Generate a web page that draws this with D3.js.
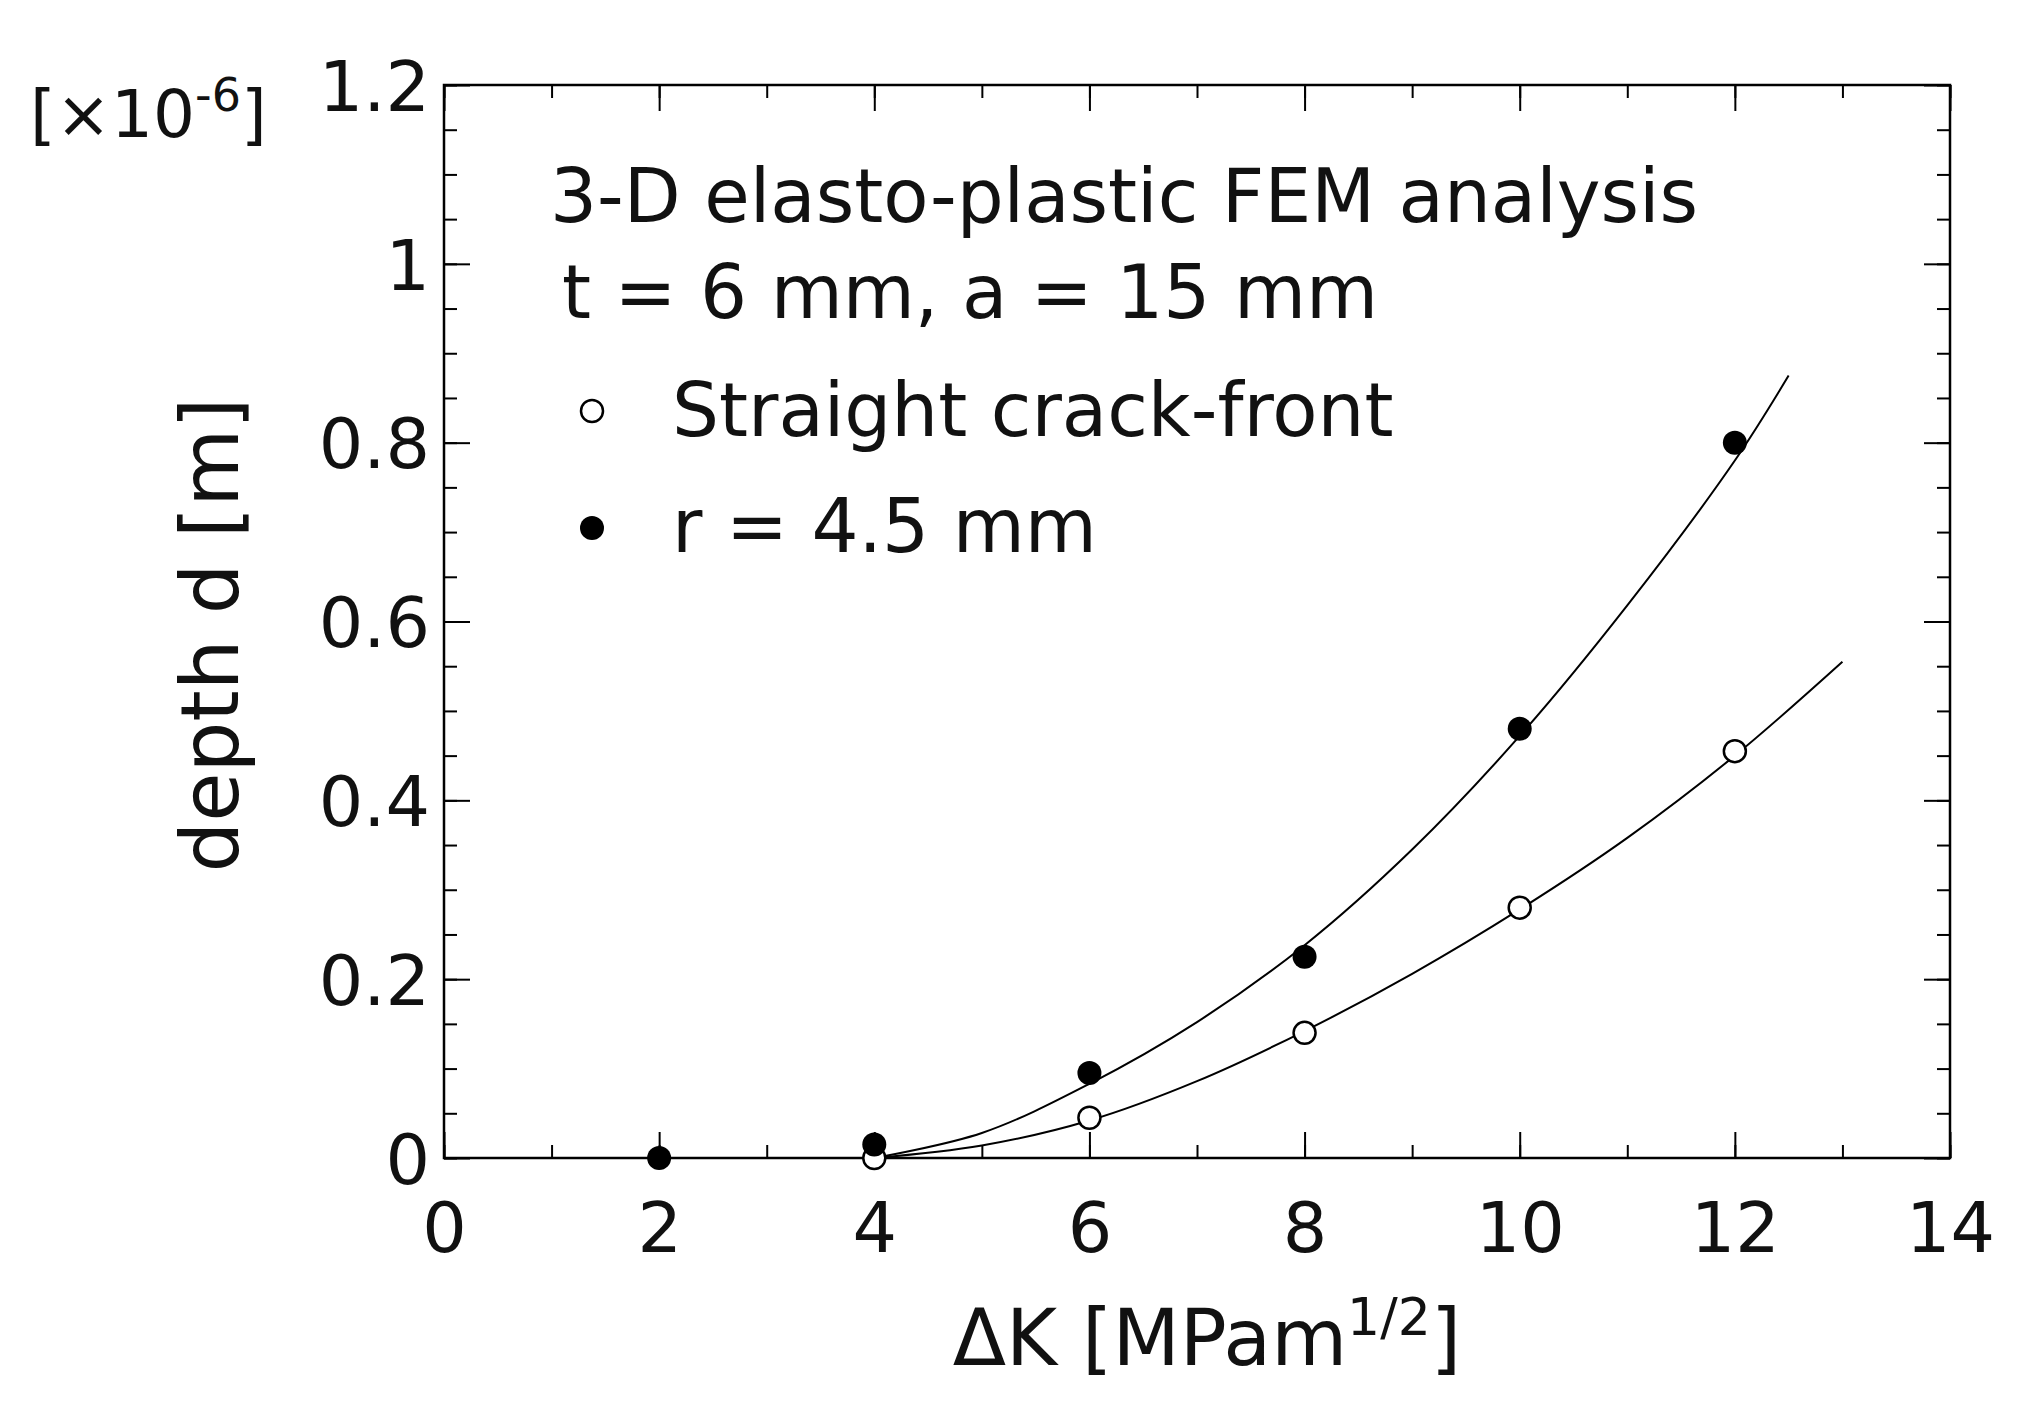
<!DOCTYPE html><html><head><meta charset="utf-8"><script src="https://cdn.jsdelivr.net/npm/d3@7"></script>
<style>body{margin:0;background:#fff}text{font-family:"DejaVu Sans",Verdana,sans-serif;fill:#111}</style></head><body><svg id="c" width="2019" height="1411"></svg>
<script>
const xTicks=[0,2,4,6,8,10,12,14];
const yTicks=[0,0.2,0.4,0.6,0.8,1,1.2];
const openX=[4,6,8,10,12], openY=[0,0.045,0.14,0.28,0.455];
const fillX=[2,4,6,8,10,12], fillY=[0,0.015,0.095,0.225,0.48,0.8];
const openFitX=[4,5,6,7,8,9,10,11,12,13], openFitY=[0,0.014,0.042,0.086,0.142,0.206,0.278,0.358,0.45,0.555];
const fillFitX=[4,5,6,7,8,9,10,11,12,12.5], fillFitY=[0,0.028,0.083,0.152,0.238,0.345,0.472,0.618,0.78,0.875];
const svg=d3.select("#c");
const L=444,R=1950,T=85,B=1158;
const x=d3.scaleLinear().domain([0,14]).range([L,R]);
const y=d3.scaleLinear().domain([0,1.2]).range([B,T]);
svg.append("rect").attr("x",L).attr("y",T).attr("width",R-L).attr("height",B-T).attr("fill","none").attr("stroke","#000").attr("stroke-width",2.5);
const fs=70;
function axis(gen,tr,minor,major,len,lab){
  const a=svg.append("g").attr("transform",tr);
  a.append("g").call(gen.tickValues(minor).tickSize(len/2).tickFormat(()=>""));
  const m=a.append("g").attr("class","major").call(gen.tickValues(major).tickSize(len).tickFormat(d=>lab?d:""));
  a.selectAll("path.domain").remove();
  a.selectAll("line").attr("stroke","#000").attr("stroke-width",2);
  return m;
}
const xMinor=d3.range(0,14.01,1), yMinor=d3.range(0,1.201,0.05);
const ax=axis(d3.axisTop(x),`translate(0,${B})`,xMinor,xTicks,26,true);
ax.selectAll("text").attr("y",44).attr("dy","0.71em").style("font-size",fs+"px");
axis(d3.axisBottom(x),`translate(0,${T})`,xMinor,xTicks,26,false);
const ay=axis(d3.axisRight(y),`translate(${L},0)`,yMinor,yTicks,26,true);
ay.selectAll("text").attr("x",-14).attr("text-anchor","end").attr("dy","0.36em").style("font-size",fs+"px");
axis(d3.axisLeft(y),`translate(${R},0)`,yMinor,yTicks,26,false);
const line=d3.line().x(d=>x(d[0])).y(d=>y(d[1])).curve(d3.curveCatmullRom);
svg.append("path").attr("d",line(d3.zip(openFitX,openFitY))).attr("fill","none").attr("stroke","#000").attr("stroke-width",2);
svg.append("path").attr("d",line(d3.zip(fillFitX,fillFitY))).attr("fill","none").attr("stroke","#000").attr("stroke-width",2);
svg.selectAll(".o").data(d3.zip(openX,openY)).join("circle").attr("cx",d=>x(d[0])).attr("cy",d=>y(d[1])).attr("r",11).attr("fill","#fff").attr("stroke","#000").attr("stroke-width",2.5);
svg.selectAll(".f").data(d3.zip(fillX,fillY)).join("circle").attr("cx",d=>x(d[0])).attr("cy",d=>y(d[1])).attr("r",12).attr("fill","#000");
svg.append("text").attr("x",(L+R)/2+10).attr("y",1365).attr("text-anchor","middle").style("font-size","78px")
 .html('ΔK [MPam<tspan dy="-30" font-size="52">1/2</tspan><tspan dy="30">]</tspan>');
svg.append("text").attr("transform","translate(238,635) rotate(-90)").attr("text-anchor","middle").style("font-size","80px").text("depth d [m]");
svg.append("text").attr("x",30).attr("y",137).style("font-size","66px").html('[×10<tspan dy="-26" font-size="46">-6</tspan><tspan dy="26">]</tspan>');
const ann=[["3-D elasto-plastic FEM analysis",550,222],["t = 6 mm, a = 15 mm",562,318]];
ann.forEach(a=>svg.append("text").attr("x",a[1]).attr("y",a[2]).style("font-size","74px").text(a[0]));
svg.append("circle").attr("cx",592).attr("cy",411).attr("r",11).attr("fill","#fff").attr("stroke","#000").attr("stroke-width",2.5);
svg.append("circle").attr("cx",592).attr("cy",528).attr("r",12).attr("fill","#000");
svg.append("text").attr("x",672).attr("y",436).style("font-size","74px").text("Straight crack-front");
svg.append("text").attr("x",672).attr("y",552).style("font-size","74px").text("r = 4.5 mm");
</script></body></html>
